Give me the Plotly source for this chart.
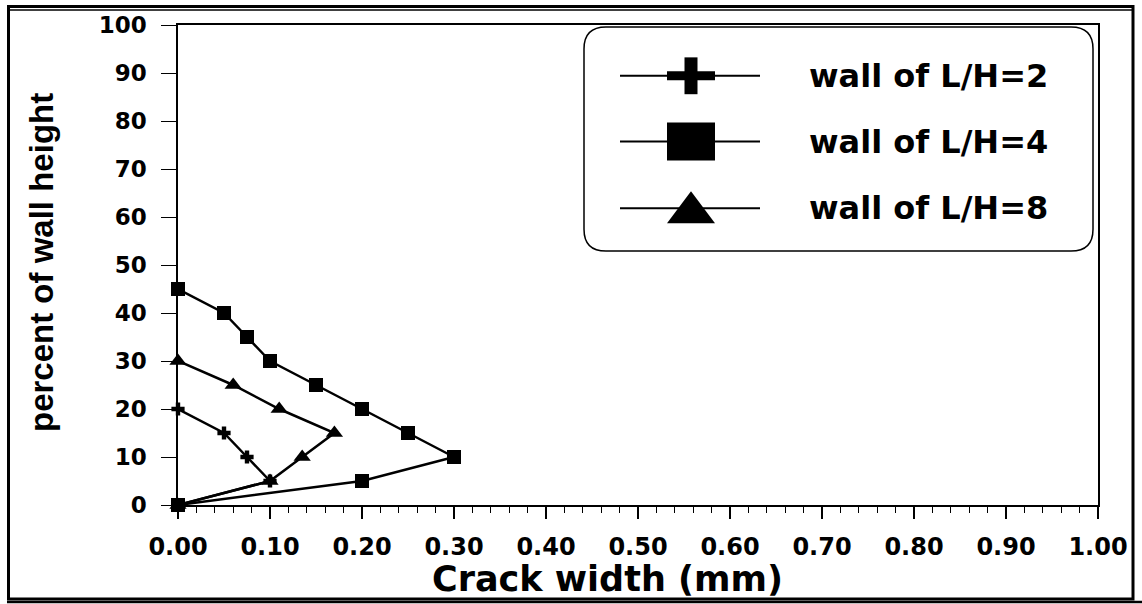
import plotly.graph_objects as go

# Crack width (mm) and position along the wall height (%) for each wall
lh2_width = [0.0, 0.05, 0.075, 0.10, 0.0]
lh2_height = [20, 15, 10, 5, 0]

lh4_width = [0.0, 0.05, 0.075, 0.10, 0.15, 0.20, 0.25, 0.30, 0.20, 0.0]
lh4_height = [45, 40, 35, 30, 25, 20, 15, 10, 5, 0]

lh8_width = [0.0, 0.06, 0.11, 0.17, 0.135, 0.10, 0.0]
lh8_height = [30, 25, 20, 15, 10, 5, 0]

series_names = ["wall of L/H=2", "wall of L/H=4", "wall of L/H=8"]

W, H = 1142, 604
ML, MR, MT, MB = 178, 44, 23, 99
PW, PH = W - ML - MR, H - MT - MB


def fx(px):
    return (px - ML) / PW


def fy(py):
    return (H - MB - py) / PH


fig = go.Figure()

line_style = dict(color="black", width=2.5)
fig.add_trace(go.Scatter(x=lh4_width, y=lh4_height, mode="lines+markers",
                         name=series_names[1], line=line_style,
                         marker=dict(symbol="square", size=14, color="black"),
                         cliponaxis=False, showlegend=False))
fig.add_trace(go.Scatter(x=lh8_width, y=lh8_height, mode="lines+markers",
                         name=series_names[2], line=line_style,
                         marker=dict(symbol="triangle-up", size=15, color="black"),
                         cliponaxis=False, showlegend=False))
fig.add_trace(go.Scatter(x=lh2_width, y=lh2_height, mode="lines+markers",
                         name=series_names[0], line=line_style,
                         marker=dict(symbol="cross", size=11, color="black"),
                         cliponaxis=False, showlegend=False))

shapes = []

# outer frame
shapes.append(dict(type="rect", xref="paper", yref="paper",
                   x0=fx(8.5), x1=fx(1133), y0=fy(4.5), y1=fy(599.5),
                   line=dict(color="black", width=3)))
shapes.append(dict(type="line", xref="paper", yref="paper",
                   x0=fx(8.5), x1=fx(1133), y0=fy(8), y1=fy(8),
                   line=dict(color="black", width=1.5)))
shapes.append(dict(type="line", xref="paper", yref="paper",
                   x0=fx(7), x1=fx(1142), y0=fy(602.5), y1=fy(602.5),
                   line=dict(color="black", width=2.5)))

# legend box with rounded corners
bx0, bx1, by0, by1, rr = 584, 1093, 25, 250, 22
path = (f"M {fx(bx0 + rr)},{fy(by0)} L {fx(bx1 - rr)},{fy(by0)} "
        f"Q {fx(bx1)},{fy(by0)} {fx(bx1)},{fy(by0 + rr)} "
        f"L {fx(bx1)},{fy(by1 - rr)} Q {fx(bx1)},{fy(by1)} {fx(bx1 - rr)},{fy(by1)} "
        f"L {fx(bx0 + rr)},{fy(by1)} Q {fx(bx0)},{fy(by1)} {fx(bx0)},{fy(by1 - rr)} "
        f"L {fx(bx0)},{fy(by0 + rr)} Q {fx(bx0)},{fy(by0)} {fx(bx0 + rr)},{fy(by0)} Z")
shapes.append(dict(type="path", xref="paper", yref="paper", path=path,
                   line=dict(color="black", width=1.5), fillcolor="white", layer="below"))

rows = [74, 140, 207]
cx = 691
annotations = []
for ry, name in zip(rows, series_names):
    shapes.append(dict(type="line", xref="paper", yref="paper",
                       x0=fx(620), x1=fx(760), y0=fy(ry), y1=fy(ry),
                       line=dict(color="black", width=2)))
    annotations.append(dict(x=fx(807), y=fy(ry), xref="paper", yref="paper",
                            text=f"<b>{name}</b>", showarrow=False,
                            xanchor="left", yanchor="middle",
                            font=dict(family="DejaVu Sans", size=32, color="black")))

# legend symbols
r = rows[0]
shapes.append(dict(type="rect", xref="paper", yref="paper",
                   x0=fx(cx - 24), x1=fx(cx + 24), y0=fy(r - 4.5), y1=fy(r + 4.5),
                   fillcolor="black", line=dict(width=0)))
shapes.append(dict(type="rect", xref="paper", yref="paper",
                   x0=fx(cx - 6.5), x1=fx(cx + 6.5), y0=fy(r - 18.5), y1=fy(r + 18.5),
                   fillcolor="black", line=dict(width=0)))
r = rows[1]
shapes.append(dict(type="rect", xref="paper", yref="paper",
                   x0=fx(cx - 24), x1=fx(cx + 24), y0=fy(r - 19), y1=fy(r + 19),
                   fillcolor="black", line=dict(width=0)))
r = rows[2]
tri = (f"M {fx(cx - 24)},{fy(r + 15)} L {fx(cx + 24)},{fy(r + 15)} "
       f"L {fx(cx)},{fy(r - 17)} Z")
shapes.append(dict(type="path", xref="paper", yref="paper", path=tri,
                   fillcolor="black", line=dict(width=0)))

# axis titles
annotations.append(dict(x=fx(607), y=fy(579), xref="paper", yref="paper",
                        text="<b>Crack width (mm)</b>", showarrow=False,
                        xanchor="center", yanchor="middle",
                        font=dict(family="DejaVu Sans", size=35, color="black")))
annotations.append(dict(x=fx(41), y=fy(262), xref="paper", yref="paper",
                        text="<b>percent of wall height</b>", showarrow=False,
                        textangle=-90, xanchor="center", yanchor="middle",
                        font=dict(family="Liberation Sans", size=33, color="black")))

fig.update_layout(
    width=W, height=H,
    margin=dict(l=ML, r=MR, t=MT, b=MB, pad=0),
    paper_bgcolor="white", plot_bgcolor="white",
    showlegend=False,
    shapes=shapes, annotations=annotations,
    xaxis=dict(range=[0, 1], dtick=0.1, tick0=0, tickformat=".2f",
               showgrid=False, zeroline=False,
               showline=True, linecolor="black", linewidth=1.5, mirror=True,
               ticks="outside", ticklen=12, tickwidth=1.5, tickcolor="black",
               ticklabelstandoff=7,
               minor=dict(dtick=0.02, ticks="outside", ticklen=6,
                          tickwidth=1.2, tickcolor="black", showgrid=False),
               tickfont=dict(family="DejaVu Sans", size=24, color="black",
                             weight="bold")),
    yaxis=dict(range=[0, 100], dtick=10, tick0=0,
               showgrid=False, zeroline=False,
               showline=True, linecolor="black", linewidth=1.5, mirror=True,
               ticks="outside", ticklen=15, tickwidth=1.2, tickcolor="black",
               ticklabelstandoff=10,
               tickfont=dict(family="DejaVu Sans", size=23, color="black",
                             weight="bold")),
)

fig.write_html("out.html")
